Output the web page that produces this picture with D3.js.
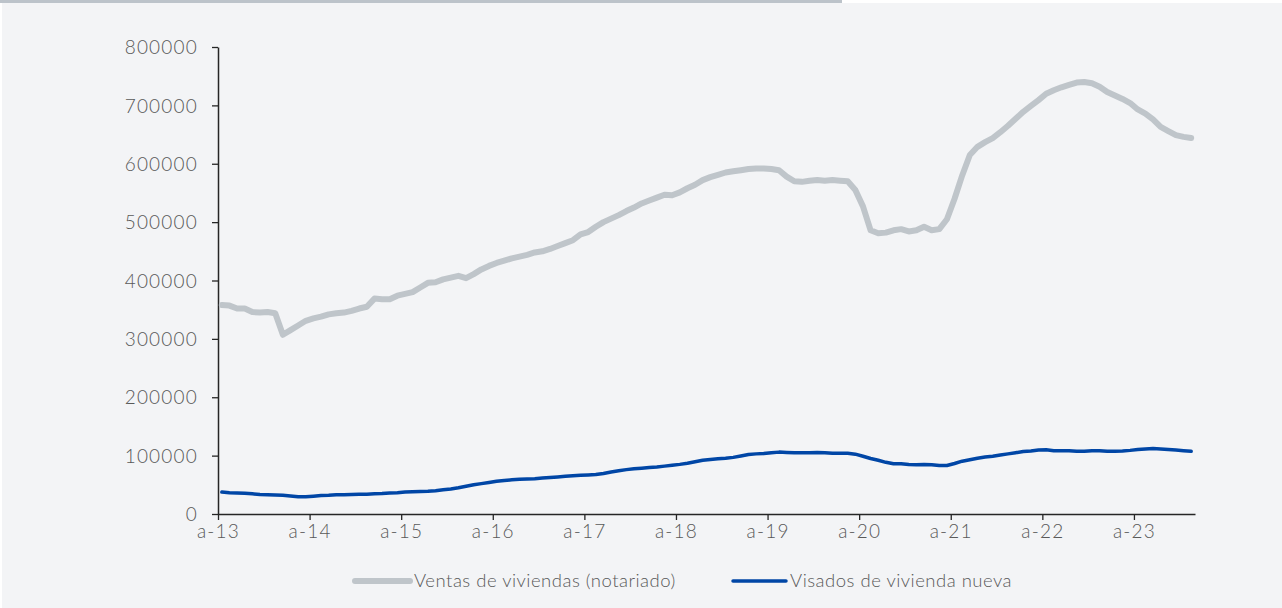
<!DOCTYPE html>
<html>
<head>
<meta charset="utf-8">
<script src="https://cdn.jsdelivr.net/npm/d3@7"></script>
<style>
  html, body { margin: 0; padding: 0; background: #ffffff; }
  svg { display: block; }
</style>
</head>
<body>
<svg id="chart" width="1282" height="608"></svg>
<script>
// tick labels on the x axis, one per January
const xLabels = ["a-13", "a-14", "a-15", "a-16", "a-17", "a-18", "a-19", "a-20", "a-21", "a-22", "a-23"];
const yTicks = [0, 100000, 200000, 300000, 400000, 500000, 600000, 700000, 800000];

// monthly values, Jan 2013 .. Aug 2023 (thousands)
const ventas = [
  358, 357, 352, 352, 346, 345, 346, 344, 307, 315, 323, 331,
  335, 338, 342, 344, 345, 348, 352, 355, 369, 368, 368, 374,
  377, 380, 388, 396, 397, 402, 405, 408, 404, 411, 419, 425,
  430, 434, 438, 441, 444, 448, 450, 454, 459, 464, 469, 479,
  483, 492, 500, 506, 512, 519, 525, 532, 537, 542, 547, 546,
  551, 558, 564, 572, 577, 581, 585, 587, 589, 591, 592, 592,
  591, 589, 578, 570, 569, 571, 572, 571, 572, 571, 570, 555,
  527, 486, 481, 482, 486, 488, 484, 486, 492, 486, 488, 505,
  540, 580, 615, 629, 637, 644, 654, 665, 677, 689, 699, 709,
  720, 726, 731, 735, 739, 740, 738, 732, 723, 717, 711, 704,
  693, 686, 676, 663, 656, 649, 646, 644
];
const visados = [
  37.5, 36.5, 36, 35.5, 34.5, 33.5, 33, 32.5, 32, 31, 29.5, 29.5,
  30.5, 31.5, 32, 33, 33, 33.5, 34, 34, 34.5, 35, 36, 36.5,
  37.5, 38, 38.5, 39, 40, 41.5, 43, 45, 47.5, 50, 52, 54,
  56, 57.5, 58.5, 59.5, 60, 60.5, 61.5, 62.5, 63.5, 64.5, 65.5, 66.5,
  67, 67.5, 69.5, 72, 74, 76, 77.5, 78.5, 79.5, 80.5, 82, 83.5,
  85, 87, 89.5, 92, 93.5, 94.5, 95.5, 97, 99.5, 102, 103, 103.5,
  105, 106, 105.5, 105, 105, 105, 105.5, 105, 104, 104, 104, 102.5,
  99, 95, 92, 88.5, 86, 86, 85, 84.5, 85, 84.5, 83, 83,
  86.5, 90.5, 93, 95.5, 97.5, 99, 101, 103, 105, 107, 108, 109.5,
  110, 108.5, 108.5, 108.5, 107.5, 107.5, 108.5, 108.5, 107.5, 107.5, 108, 109,
  110.5, 111.5, 112, 111.5, 110.5, 109.5, 108.5, 107.5
];

const seriesNames = ["Ventas de viviendas (notariado)", "Visados de vivienda nueva"];
const seriesColors = ["#bfc5ca", "#0046a6"];

const svg = d3.select("#chart");
const W = 1282, H = 608;
const textColor = "#595959";
const font = "Lato, 'DejaVu Sans', sans-serif";

// page frame: grey bar on top, light panel
svg.append("rect").attr("x", 2).attr("y", 3).attr("width", W - 2).attr("height", H - 3).attr("fill", "#f3f4f6");
svg.append("rect").attr("x", 0).attr("y", 0).attr("width", 842).attr("height", 3).attr("fill", "#bcc3ca");

// one slot per month, points sit in the middle of their slot
const x = d3.scaleLinear().domain([0, ventas.length]).range([218, 1195]);
const y = d3.scaleLinear().domain([0, 800000]).range([514, 47]);

const yAxis = d3.axisLeft(y).tickValues(yTicks).tickFormat(d => d3.format("d")(d))
  .tickSizeInner(6).tickSizeOuter(0).tickPadding(14);
const xAxis = d3.axisBottom(x).tickValues(xLabels.map((d, i) => i * 12))
  .tickFormat((d, i) => xLabels[i]).tickSizeInner(6).tickSizeOuter(0).tickPadding(5);

const gy = svg.append("g").attr("transform", "translate(218,0)").call(yAxis);
const gx = svg.append("g").attr("transform", "translate(0,514)").call(xAxis);

[gx, gy].forEach(g => {
  g.select(".domain").attr("stroke", "#262626").attr("stroke-width", 1.5);
  g.selectAll(".tick line").attr("stroke", "#262626").attr("stroke-width", 1.3);
  g.selectAll("text").attr("fill", textColor).attr("font-family", font)
    .attr("font-weight", 300).attr("font-size", "19px").attr("letter-spacing", "1.2px");
});
gy.selectAll("text").attr("dy", "0.35em");

const line = d3.line().x((d, i) => x(i + 0.5)).y(d => y(d * 1000));

svg.append("path").datum(ventas).attr("d", line)
  .attr("fill", "none").attr("stroke", seriesColors[0]).attr("stroke-width", 6)
  .attr("stroke-linejoin", "round").attr("stroke-linecap", "round");
svg.append("path").datum(visados).attr("d", line)
  .attr("fill", "none").attr("stroke", seriesColors[1]).attr("stroke-width", 3.5)
  .attr("stroke-linejoin", "round").attr("stroke-linecap", "round");

// legend
const legendX = [355, 733];
const legendW = [55, 53];
const legendSW = [6, 3.5];
seriesNames.forEach((name, i) => {
  const g = svg.append("g").attr("transform", `translate(${legendX[i]},581)`);
  g.append("line").attr("x1", 0).attr("x2", legendW[i]).attr("y1", 0).attr("y2", 0)
    .attr("stroke", seriesColors[i]).attr("stroke-width", legendSW[i]).attr("stroke-linecap", "round");
  g.append("text").attr("x", legendW[i] + 4).attr("y", 6)
    .attr("fill", textColor).attr("font-family", font).attr("font-weight", 300)
    .attr("font-size", "18.5px").attr("letter-spacing", "0.5px").text(name);
});
</script>
</body>
</html>
